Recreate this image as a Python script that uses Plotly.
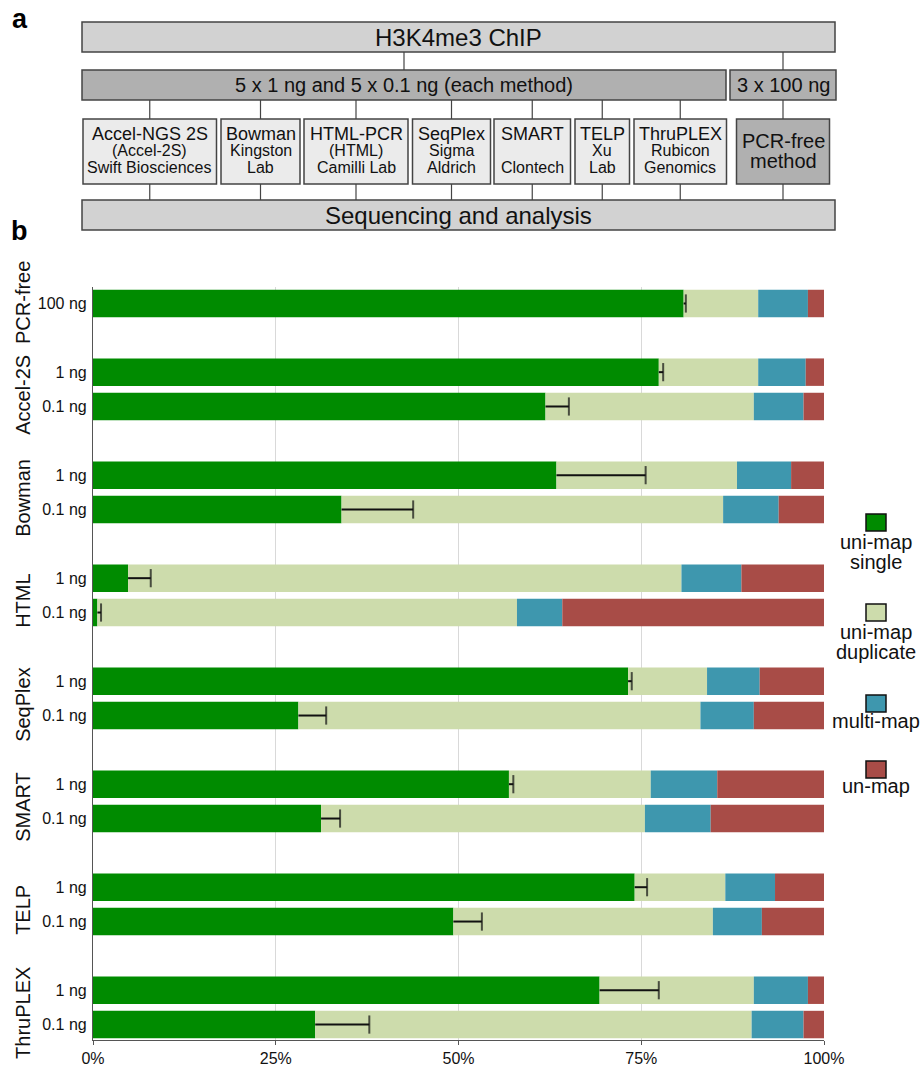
import plotly.graph_objects as go

# ---------------- data ----------------
groups = ["PCR-free", "Accel-2S", "Bowman", "HTML", "SeqPlex", "SMART", "TELP", "ThruPLEX"]
group_doses = [["100 ng"], ["1 ng", "0.1 ng"], ["1 ng", "0.1 ng"], ["1 ng", "0.1 ng"],
               ["1 ng", "0.1 ng"], ["1 ng", "0.1 ng"], ["1 ng", "0.1 ng"], ["1 ng", "0.1 ng"]]

uni_single = [80.8, 77.4, 61.9, 63.4, 34.0, 4.8, 0.6, 73.2, 28.1, 56.9, 31.2, 74.1, 49.3, 69.3, 30.4]
uni_dup    = [10.2, 13.6, 28.5, 24.7, 52.2, 75.7, 57.4, 10.8, 55.0, 19.4, 44.3, 12.4, 35.5, 21.1, 59.7]
multi_map  = [6.8, 6.5, 6.8, 7.4, 7.6, 8.2, 6.2, 7.2, 7.3, 9.1, 9.0, 6.8, 6.7, 7.4, 7.1]
un_map     = [2.2, 2.5, 2.8, 4.5, 6.2, 11.3, 35.8, 8.8, 9.6, 14.6, 15.5, 6.7, 8.5, 2.2, 2.8]
err_single = [0.3, 0.6, 3.2, 12.2, 9.8, 3.1, 0.5, 0.5, 3.8, 0.6, 2.6, 1.7, 3.9, 8.1, 7.4]

series_names = ["uni-map single", "uni-map duplicate", "multi-map", "un-map"]
legend_lines = [["uni-map", "single"], ["uni-map", "duplicate"], ["multi-map"], ["un-map"]]

x_tickvals = [0, 25, 50, 75, 100]
x_ticktext = ["0%", "25%", "50%", "75%", "100%"]

# ---------------- styling ----------------
FONT = "Liberation Sans, Arial, Helvetica, sans-serif"
C_SINGLE = "#008B00"
C_DUP = "#CDDCAC"
C_MULTI = "#3E97AE"
C_UN = "#A84C47"
colors = [C_SINGLE, C_DUP, C_MULTI, C_UN]
TXT = "#111111"

W_FIG, H_FIG = 922, 1068
M_L, M_R, M_T, M_B = 93, 98, 287, 28
PW = W_FIG - M_L - M_R
PH = H_FIG - M_T - M_B


def PX(x):
    return (x - M_L) / PW


def PY(y):
    return (H_FIG - M_B - y) / PH


# ---------------- row slots ----------------
row_pos, row_text, group_centers, group_sizes = [], [], [], []
slot = 0
for g, ds in zip(groups, group_doses):
    pos = list(range(slot, slot + len(ds)))
    row_pos += pos
    row_text += ds
    group_centers.append(sum(pos) / len(pos))
    group_sizes.append(len(ds))
    slot += len(ds) + 1
n = len(row_pos)

base_multi = [a + b for a, b in zip(uni_single, uni_dup)]
base_un = [a + b + c for a, b, c in zip(uni_single, uni_dup, multi_map)]

fig = go.Figure()
BW = 0.8
fig.add_trace(go.Bar(x=uni_single, y=row_pos, orientation="h", width=BW,
                     marker=dict(color=C_SINGLE, line=dict(width=0)), name=series_names[0]))
fig.add_trace(go.Bar(x=uni_dup, y=row_pos, base=uni_single, orientation="h", width=BW,
                     marker=dict(color=C_DUP, line=dict(width=0)), name=series_names[1]))
fig.add_trace(go.Bar(x=multi_map, y=row_pos, base=base_multi, orientation="h", width=BW,
                     marker=dict(color=C_MULTI, line=dict(width=0)), name=series_names[2]))
fig.add_trace(go.Bar(x=un_map, y=row_pos, base=base_un, orientation="h", width=BW,
                     marker=dict(color=C_UN, line=dict(width=0)), name=series_names[3]))

# one-sided error bars (upper side only) for uni-map single
ex, ey, esz = [], [], []
for g, e, p in zip(uni_single, err_single, row_pos):
    ex += [g, g + e, None]
    ey += [p, p, None]
    esz += [0, 13, 0]
fig.add_trace(go.Scatter(x=ex, y=ey, mode="lines+markers", hoverinfo="skip",
                         line=dict(color="#111111", width=2),
                         marker=dict(symbol="line-ns", size=esz, color="#111111",
                                     line=dict(color="#111111", width=2)),
                         name="sd"))

shapes = []
annotations = []

# group labels
for g, c, s in zip(groups, group_centers, group_sizes):
    annotations.append(dict(x=PX(23.5), xref="paper", y=c, yref="y", text=g, textangle=-90,
                            showarrow=False, xanchor="center", yanchor="middle",
                            yshift=(-6 if s > 1 else 1),
                            font=dict(family=FONT, size=20, color=TXT)))

# custom legend
leg_box_tops = [514, 604, 695, 761]
leg_line_centers = [[542, 562], [632, 652], [720.5], [786]]
for col, top, lines, centers in zip(colors, leg_box_tops, legend_lines, leg_line_centers):
    shapes.append(dict(type="rect", xref="paper", yref="paper",
                       x0=PX(866), x1=PX(886), y0=PY(top + 17), y1=PY(top),
                       fillcolor=col, line=dict(color="#111111", width=1.5)))
    for t, cy in zip(lines, centers):
        annotations.append(dict(x=PX(876), y=PY(cy), xref="paper", yref="paper", text=t,
                                showarrow=False, xanchor="center", yanchor="middle",
                                font=dict(family=FONT, size=20, color=TXT)))

# ---------------- panel a (flow chart) ----------------
BORDER = dict(color="#444444", width=1.5)
LIGHT = "#D2D2D2"
MID = "#B0B0B0"
PALE = "#EBEBEB"


def box(x0, y0, x1, y1, fill):
    shapes.append(dict(type="rect", xref="paper", yref="paper", x0=PX(x0), x1=PX(x1),
                       y0=PY(y1), y1=PY(y0), fillcolor=fill, line=BORDER, layer="above"))


def text(x, y, t, size):
    annotations.append(dict(x=PX(x), y=PY(y), xref="paper", yref="paper", text=t,
                            showarrow=False, xanchor="center", yanchor="middle",
                            font=dict(family=FONT, size=size, color=TXT)))


def vline(x, y0, y1):
    shapes.append(dict(type="line", xref="paper", yref="paper", x0=PX(x), x1=PX(x),
                       y0=PY(y0), y1=PY(y1), line=dict(color="#444444", width=1.2)))


box(82, 22, 835, 52, LIGHT)
text(458.5, 37, "H3K4me3 ChIP", 24)
box(82, 70, 726, 100, MID)
text(404, 85, "5 x 1 ng and 5 x 0.1 ng (each method)", 20)
box(730, 70, 836, 100, MID)
text(783, 85, "3 x 100 ng", 20)
box(82, 200, 835, 230, LIGHT)
text(458.5, 215, "Sequencing and analysis", 24)

method_boxes = [
    (83, 216.5, ["Accel-NGS 2S", "(Accel-2S)", "Swift Biosciences"]),
    (221, 300, ["Bowman", "Kingston", "Lab"]),
    (304, 408, ["HTML-PCR", "(HTML)", "Camilli Lab"]),
    (412.5, 490.5, ["SeqPlex", "Sigma", "Aldrich"]),
    (494, 570.5, ["SMART", "", "Clontech"]),
    (575, 629.5, ["TELP", "Xu", "Lab"]),
    (634, 726.5, ["ThruPLEX", "Rubicon", "Genomics"]),
]
line_y = [134, 151, 167.5]
line_sz = [18, 16, 16]
for x0, x1, lines in method_boxes:
    box(x0, 119, x1, 184, PALE)
    cx = (x0 + x1) / 2
    for t, yy, sz in zip(lines, line_y, line_sz):
        if t:
            text(cx, yy, t, sz)
    vline(cx, 100, 119)
    vline(cx, 184, 200)

box(736.5, 119, 829.5, 184, MID)
text(783, 141, "PCR-free", 20)
text(783, 161, "method", 20)
vline(783, 100, 119)
vline(783, 184, 200)
vline(783, 52, 70)
vline(404, 52, 70)

# panel letters
annotations.append(dict(x=PX(19.5), y=PY(19), xref="paper", yref="paper", text="<b>a</b>",
                        showarrow=False, xanchor="center", yanchor="middle",
                        font=dict(family=FONT, size=27, color="#000000")))
annotations.append(dict(x=PX(19.5), y=PY(231), xref="paper", yref="paper", text="<b>b</b>",
                        showarrow=False, xanchor="center", yanchor="middle",
                        font=dict(family=FONT, size=27, color="#000000")))

fig.update_layout(
    width=W_FIG, height=H_FIG,
    margin=dict(l=M_L, r=M_R, t=M_T, b=M_B, pad=0),
    paper_bgcolor="white", plot_bgcolor="white",
    barmode="overlay",
    showlegend=False,
    font=dict(family=FONT, color=TXT),
    shapes=shapes,
    annotations=annotations,
    xaxis=dict(range=[0, 100], tickvals=x_tickvals, ticktext=x_ticktext,
               showgrid=True, gridcolor="#D9D9D9", gridwidth=1, zeroline=False,
               showline=True, linecolor="#555555", linewidth=1.2,
               ticks="outside", ticklen=4, tickcolor="#555555",
               tickfont=dict(family=FONT, size=16, color=TXT), automargin=False, fixedrange=True),
    yaxis=dict(range=[21.45, -0.48], tickvals=row_pos, ticktext=row_text,
               showgrid=False, zeroline=False, showline=True, linecolor="#555555", linewidth=1.2,
               ticks="", ticklabelstandoff=2,
               tickfont=dict(family=FONT, size=16, color=TXT), automargin=False, fixedrange=True),
)

fig.write_html("out.html")
